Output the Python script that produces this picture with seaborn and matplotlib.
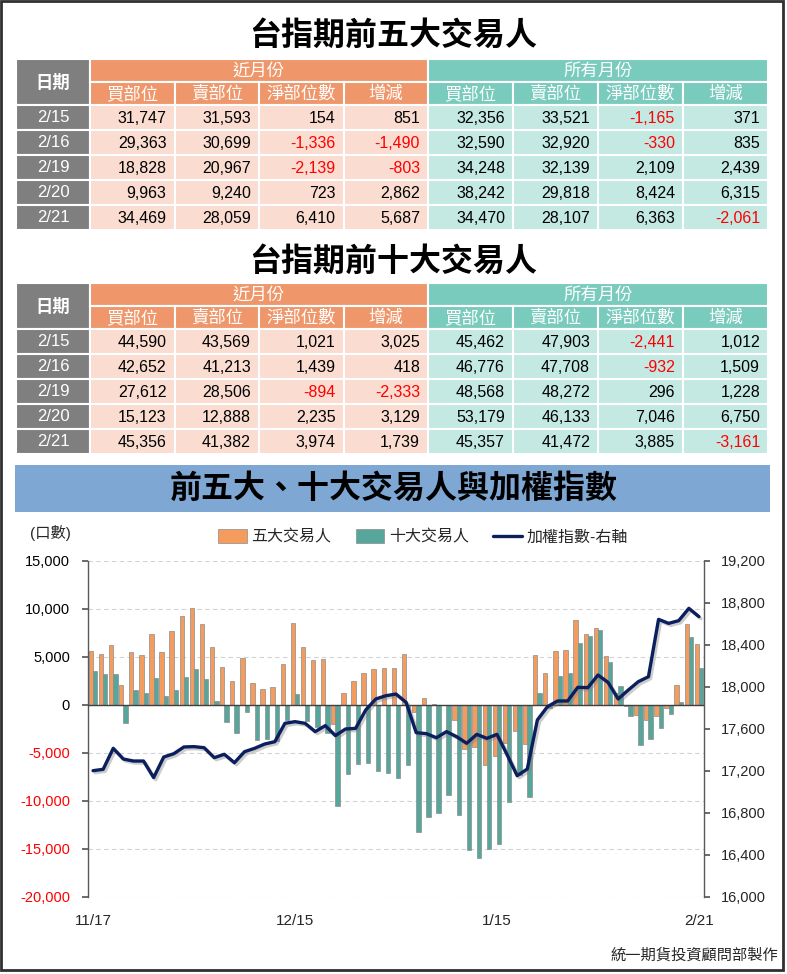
import matplotlib
matplotlib.use('Agg')
import matplotlib.pyplot as plt
import matplotlib.patches as mpatches
import matplotlib.patheffects as pe
from matplotlib.lines import Line2D
import numpy as np
import pandas as pd
import seaborn as sns

# ---- table data ----
table_dates = ['2/15', '2/16', '2/19', '2/20', '2/21']
col_names = ['買部位', '賣部位', '淨部位數', '增減']

# 前五大: 近月份 / 所有月份  (買部位, 賣部位, 淨部位數, 增減)
top5_near = [[31747, 31593, 154, 851],
             [29363, 30699, -1336, -1490],
             [18828, 20967, -2139, -803],
             [9963, 9240, 723, 2862],
             [34469, 28059, 6410, 5687]]
top5_all = [[32356, 33521, -1165, 371],
            [32590, 32920, -330, 835],
            [34248, 32139, 2109, 2439],
            [38242, 29818, 8424, 6315],
            [34470, 28107, 6363, -2061]]

# 前十大
top10_near = [[44590, 43569, 1021, 3025],
              [42652, 41213, 1439, 418],
              [27612, 28506, -894, -2333],
              [15123, 12888, 2235, 3129],
              [45356, 41382, 3974, 1739]]
top10_all = [[45462, 47903, -2441, 1012],
             [46776, 47708, -932, 1509],
             [48568, 48272, 296, 1228],
             [53179, 46133, 7046, 6750],
             [45357, 41472, 3885, -3161]]

# ---- chart data ----
dates = ['11/17', '11/20', '11/21', '11/22', '11/23', '11/24', '11/27', '11/28', '11/29', '11/30',
         '12/1', '12/4', '12/5', '12/6', '12/7', '12/8', '12/11', '12/12', '12/13', '12/14',
         '12/15', '12/18', '12/19', '12/20', '12/21', '12/22', '12/25', '12/26', '12/27', '12/28',
         '12/29', '1/2', '1/3', '1/4', '1/5', '1/8', '1/9', '1/10', '1/11', '1/12',
         '1/15', '1/16', '1/17', '1/18', '1/19', '1/22', '1/23', '1/24', '1/25', '1/26',
         '1/29', '1/30', '1/31', '2/1', '2/2', '2/5', '2/15', '2/16', '2/19', '2/20', '2/21']

top5_net = [5600, 5300, 6200, 2100, 5500, 5200, 7400, 5500, 7700, 9300,
            10100, 8400, 6000, 4000, 2500, 4850, 2300, 1650, 1850, 4300,
            8500, 6050, 4700, 4800, -2000, 1300, 2500, 3300, 3750, 3900,
            3850, 5300, -700, 700, 100, -50, -1550, -4600, -4350, -6200,
            -5300, -4000, -2700, -4100, 5200, 3300, 5600, 5700, 8900, 7400,
            8050, 5100, 1200, -100, -1050, -1550, -1165, -330, 2109, 8424, 6363]

top10_net = [3500, 3200, 3200, -1900, 1600, 1200, 2800, 900, 1600, 2950,
             3700, 2700, 400, -1800, -2950, -750, -3600, -3500, -3800, -1550,
             1100, -1650, -2250, -2900, -10500, -7200, -6100, -6000, -6850, -7050,
             -7650, -6300, -13200, -11650, -11300, -9400, -11450, -15100, -15950, -14950,
             -14500, -10150, -7300, -9600, 1200, -300, 3050, 3300, 6500, 7200,
             7850, 4500, 2000, -1150, -4150, -3500, -2441, -932, 296, 7046, 3885]

taiex = [17203, 17216, 17416, 17314, 17295, 17295, 17137, 17333, 17365, 17429,
         17432, 17422, 17327, 17359, 17279, 17384, 17416, 17457, 17479, 17654,
         17670, 17654, 17575, 17632, 17537, 17600, 17606, 17781, 17886, 17917,
         17933, 17854, 17565, 17556, 17517, 17575, 17527, 17464, 17549, 17511,
         17549, 17355, 17155, 17219, 17686, 17813, 17867, 17867, 17997, 17994,
         18114, 18044, 17886, 17971, 18051, 18098, 18644, 18606, 18632, 18749, 18670]

ORANGE_HDR = '#EF976B'
ORANGE_CELL = '#FADCD0'
TEAL_HDR = '#79CBBD'
TEAL_CELL = '#C3E9E2'
GRAY = '#7F7F7F'
BAR_ORANGE = '#F39C5E'
BAR_TEAL = '#56A69B'
NAVY = '#0B1F5E'

sns.set_theme(style='white')
plt.rcParams['font.family'] = ['Liberation Sans', 'Noto Sans CJK TC', 'DejaVu Sans']
plt.rcParams['axes.unicode_minus'] = False

W, H = 787, 974
fig = plt.figure(figsize=(W / 100, H / 100), dpi=100)

# pixel-based canvas for the tables and banners
bg = fig.add_axes([0, 0, 1, 1])
bg.set_xlim(0, W)
bg.set_ylim(H, 0)
bg.axis('off')

col_x = [16, 90, 174.5, 259, 343.5, 428, 513, 598, 683, 768]


def cell(x0, x1, y0, y1, fc):
    bg.add_patch(mpatches.Rectangle((x0, y0), x1 - x0, y1 - y0, fc=fc,
                                    ec='white', lw=1.5))


def draw_table(title, title_y, y0, near, allm):
    bg.text(W / 2, title_y, title, ha='center', va='center',
            fontsize=23, fontweight='bold', color='black')
    hh, rh = 23, 25
    cell(col_x[0], col_x[1], y0, y0 + 2 * hh, GRAY)
    bg.text((col_x[0] + col_x[1]) / 2, y0 + hh, '日期', ha='center',
            va='center', color='white', fontsize=12.5, fontweight='bold')
    cell(col_x[1], col_x[5], y0, y0 + hh, ORANGE_HDR)
    cell(col_x[5], col_x[9], y0, y0 + hh, TEAL_HDR)
    bg.text((col_x[1] + col_x[5]) / 2, y0 + hh / 2, '近月份', ha='center',
            va='center', color='white', fontsize=12.5)
    bg.text((col_x[5] + col_x[9]) / 2, y0 + hh / 2, '所有月份', ha='center',
            va='center', color='white', fontsize=12.5)
    for j in range(8):
        fc = ORANGE_HDR if j < 4 else TEAL_HDR
        cell(col_x[j + 1], col_x[j + 2], y0 + hh, y0 + 2 * hh, fc)
        bg.text((col_x[j + 1] + col_x[j + 2]) / 2, y0 + 1.5 * hh,
                col_names[j % 4], ha='center', va='center', color='white',
                fontsize=12.5)
    for i, d in enumerate(table_dates):
        ya = y0 + 2 * hh + i * rh
        cell(col_x[0], col_x[1], ya, ya + rh, GRAY)
        bg.text((col_x[0] + col_x[1]) / 2, ya + rh / 2, d, ha='center',
                va='center', color='white', fontsize=12)
        vals = near[i] + allm[i]
        for j, v in enumerate(vals):
            fc = ORANGE_CELL if j < 4 else TEAL_CELL
            cell(col_x[j + 1], col_x[j + 2], ya, ya + rh, fc)
            color = 'black'
            if j % 4 >= 2 and v < 0:
                color = '#FF0000'
            bg.text(col_x[j + 2] - 8, ya + rh / 2 + 1, f'{v:,}', ha='right',
                    va='center', color=color, fontsize=11.5)


draw_table('台指期前五大交易人', 36, 59, top5_near, top5_all)
draw_table('台指期前十大交易人', 262, 283, top10_near, top10_all)

# banner for the chart
bg.add_patch(mpatches.Rectangle((15, 465), 755, 47, fc='#7FA7D4', ec='none'))
bg.text(W / 2, 489, '前五大、十大交易人與加權指數', ha='center', va='center',
        fontsize=23, fontweight='bold', color='black')

# outer frame
bg.add_patch(mpatches.Rectangle((1, 1), 782, 969, fill=False, ec='#303030', lw=2))

# ---- chart ----
ax = fig.add_axes([88 / W, 1 - 897 / H, (704 - 88) / W, (897 - 561) / H])
ax.patch.set_alpha(0)
df = pd.DataFrame({
    'date': dates * 2,
    'net': top5_net + top10_net,
    'who': ['五大交易人'] * len(dates) + ['十大交易人'] * len(dates),
})
sns.barplot(data=df, x='date', y='net', hue='who', order=dates,
            hue_order=['五大交易人', '十大交易人'],
            palette=[BAR_ORANGE, BAR_TEAL], saturation=1, width=0.86,
            edgecolor='#8C8C8C', linewidth=0.5, legend=False, ax=ax)
ax.set_xlim(-0.5, len(dates) - 0.5)
ax.set_ylim(-20000, 15000)
yt = list(range(-20000, 15001, 5000))
ax.set_yticks(yt)
ax.set_yticklabels([f'{v:,}' for v in yt], fontsize=10.5)
for lab, v in zip(ax.get_yticklabels(), yt):
    lab.set_color('#FF0000' if v < 0 else 'black')
ax.yaxis.grid(True, linestyle=(0, (4, 3)), color='#D3D3D3', lw=0.8)
ax.axhline(0, color='#404040', lw=1, zorder=3)
ax.set_xlabel('')
ax.set_ylabel('')
tick_idx = [0, 20, 40, 60]
ax.set_xticks(tick_idx)
ax.set_xticklabels([dates[i] for i in tick_idx], fontsize=11)
ax.tick_params(axis='x', length=0, pad=12)
ax.tick_params(axis='y', length=4, direction='out', color='#595959', pad=9, left=True)
for s in ['top', 'bottom', 'right']:
    ax.spines[s].set_visible(False)
ax.spines['left'].set_color('#595959')
ax.spines['left'].set_linewidth(1)

ax2 = ax.twinx()
sns.lineplot(x=np.arange(len(dates)), y=taiex, color=NAVY, lw=2.4, ax=ax2,
             path_effects=[pe.SimpleLineShadow(offset=(1.5, -1.5),
                                               shadow_color='gray', alpha=0.4),
                           pe.Normal()])
ax2.set_ylim(16000, 19200)
rt = list(range(16000, 19201, 400))
ax2.set_yticks(rt)
ax2.set_yticklabels([f'{v:,}' for v in rt], fontsize=10.5)
ax2.tick_params(axis='y', length=4, direction='out', color='#595959', pad=8, right=True)
for s in ['top', 'bottom', 'left']:
    ax2.spines[s].set_visible(False)
ax2.spines['right'].set_color('#595959')
ax2.spines['right'].set_linewidth(1)
ax2.grid(False)
ax2.set_xlim(-0.5, len(dates) - 0.5)

handles = [mpatches.Patch(fc=BAR_ORANGE, ec='#8C8C8C', lw=0.5),
           mpatches.Patch(fc=BAR_TEAL, ec='#8C8C8C', lw=0.5),
           Line2D([0], [0], color=NAVY, lw=2.4)]
fig.legend(handles, ['五大交易人', '十大交易人', '加權指數-右軸'], loc='center',
           bbox_to_anchor=(423 / W, 1 - 537 / H), ncol=3, frameon=False,
           fontsize=11.5, handlelength=1.8, handleheight=0.9,
           columnspacing=1.5, handletextpad=0.3)

fig.text(50 / W, 1 - 533 / H, '(口數)', ha='center', va='center', fontsize=11)
fig.text(778 / W, 1 - 955 / H, '統一期貨投資顧問部製作', ha='right', va='center',
         fontsize=11)

fig.savefig('out.png', dpi=100)
